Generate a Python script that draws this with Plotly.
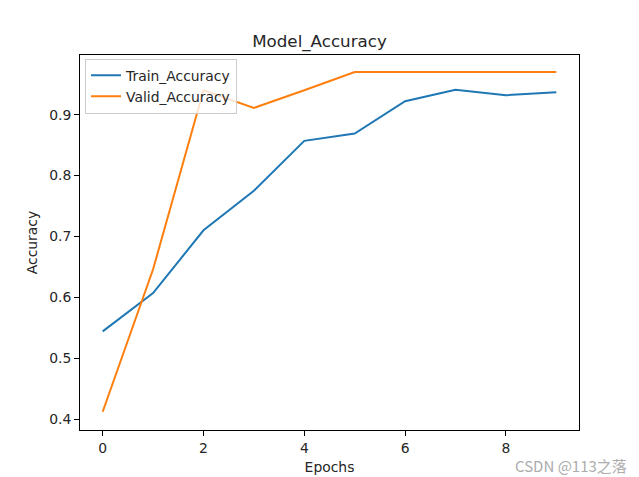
import plotly.graph_objects as go

epochs = list(range(10))
train_acc = [0.544, 0.607, 0.710, 0.775, 0.857, 0.869, 0.922, 0.941, 0.932, 0.937]
valid_acc = [0.412, 0.646, 0.940, 0.911, 0.940, 0.970, 0.970, 0.970, 0.970, 0.970]
x_ticks = [0, 2, 4, 6, 8]
y_ticks = [0.4, 0.5, 0.6, 0.7, 0.8, 0.9]

FONT = "DejaVu Sans"
fig = go.Figure()
fig.add_trace(go.Scatter(x=epochs, y=train_acc, mode="lines", name="Train_Accuracy",
                         line=dict(color="#1f77b4", width=2)))
fig.add_trace(go.Scatter(x=epochs, y=valid_acc, mode="lines", name="Valid_Accuracy",
                         line=dict(color="#ff7f0e", width=2)))

axis_common = dict(showline=True, linecolor="black", linewidth=1, mirror=True,
                   ticks="outside", ticklen=5, tickcolor="black", tickwidth=1,
                   showgrid=False, zeroline=False, automargin=False,
                   tickfont=dict(family=FONT, size=13.9, color="#262626"))

fig.update_layout(
    width=639, height=477,
    margin=dict(l=80, r=60, t=55, b=47),
    plot_bgcolor="white", paper_bgcolor="white",
    font=dict(family=FONT, color="#262626"),
    title=dict(text="Model_Accuracy", x=0.5, xanchor="center", y=1 - 41 / 477, yanchor="middle",
               font=dict(family=FONT, size=16.7, color="#262626")),
    xaxis=dict(range=[-0.45, 9.45], tickvals=x_ticks,
               title=dict(text="Epochs", font=dict(family=FONT, size=13.9), standoff=7),
               **axis_common),
    yaxis=dict(range=[0.382, 0.998], tickvals=y_ticks, tickformat=".1f",
               title=dict(text="Accuracy", font=dict(family=FONT, size=13.9), standoff=8),
               **axis_common),
    legend=dict(x=0.01, y=0.99, xanchor="left", yanchor="top",
                bgcolor="rgba(255,255,255,0.8)", bordercolor="#cccccc", borderwidth=1,
                font=dict(family=FONT, size=13.9, color="#262626"),
                tracegroupgap=0, itemwidth=30),
    showlegend=True,
)

fig.add_annotation(text="CSDN @113之落", xref="paper", yref="paper",
                   x=(628 - 80) / 499, y=-(465 - 430) / 375, xanchor="right", yanchor="middle",
                   showarrow=False, borderpad=0,
                   font=dict(family="Noto Sans CJK SC", size=15, color="#acacac"))

fig.write_html("out.html")
